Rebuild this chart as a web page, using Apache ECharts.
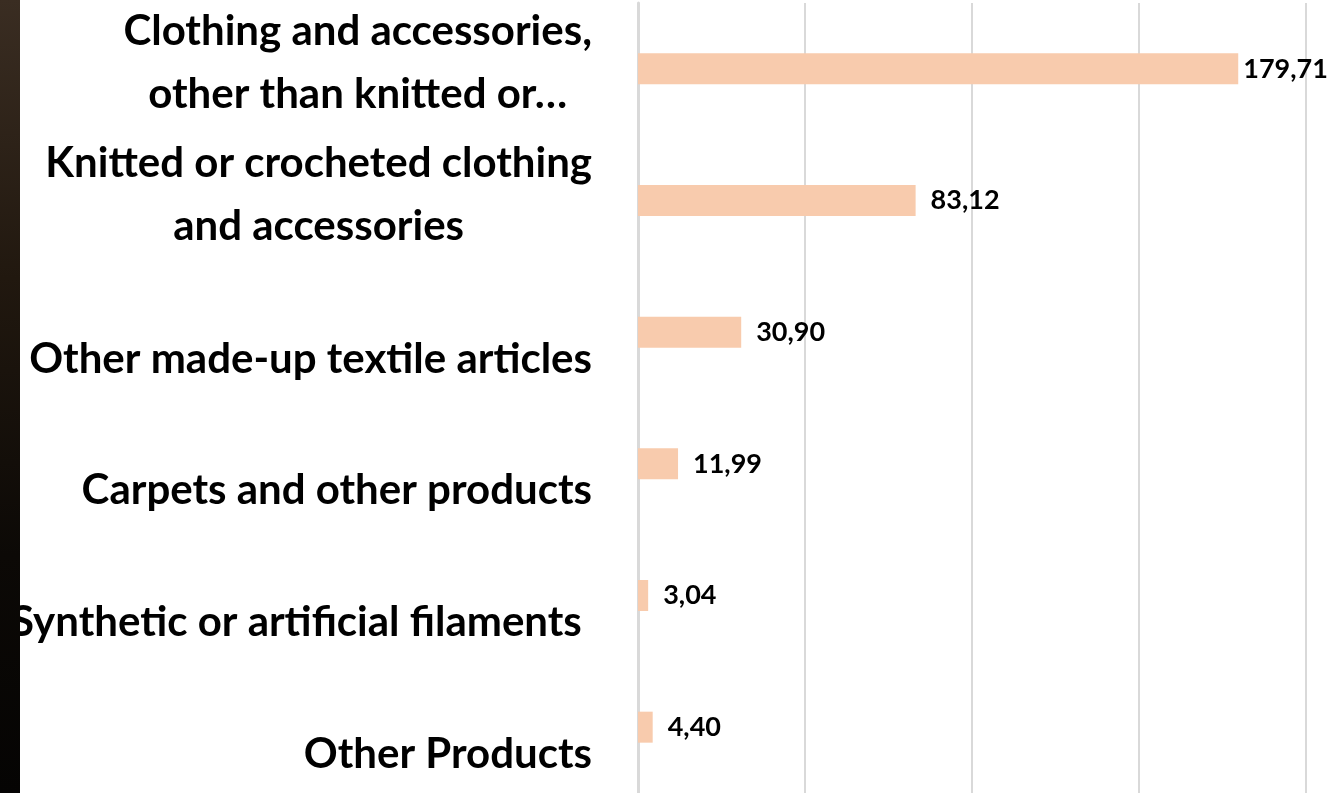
<!DOCTYPE html>
<html>
<head>
<meta charset="utf-8">
<style>
html,body{margin:0;padding:0;background:#fff;}
#chart{width:1342px;height:793px;}
</style>
<script src="https://cdn.jsdelivr.net/npm/echarts@6/dist/echarts.min.js"></script>
</head>
<body>
<div id="chart"></div>
<script>
// Category lines (each category may span several lines)
const categories = [
  ['Clothing and accessories,', 'other than knitted or…'],
  ['Knitted or crocheted clothing', 'and accessories'],
  ['Other made-up textile articles'],
  ['Carpets and other products'],
  ['Synthetic or artificial filaments '],
  ['Other Products']
];
const values = [179.71, 83.12, 30.90, 11.99, 3.04, 4.40];
const xTicks = [0, 50, 100, 150, 200];

const chart = echarts.init(document.getElementById('chart'));
const FONT = 'Lato';

const catNames = categories.map(c => c.join('\n'));

function labelFormatter(value) {
  const lines = value.split('\n');
  if (lines.length === 1) {
    return '{e| }\n{l|' + lines[0] + '}';
  }
  return lines.map(s => '{l|' + s + '}').join('\n') + '\n{f| }';
}

chart.setOption({
  animation: false,
  backgroundColor: '#ffffff',
  graphic: [{
    type: 'rect',
    left: 0, top: 0,
    shape: {width: 20, height: 793},
    style: {
      fill: new echarts.graphic.LinearGradient(0, 0, 0, 1, [
        {offset: 0, color: '#3a2d22'},
        {offset: 0.35, color: '#21180f'},
        {offset: 0.7, color: '#0c0906'},
        {offset: 1, color: '#050403'}
      ])
    },
    z: 10
  }],
  grid: {left: 638, right: 36, top: 3, height: 795, containLabel: false},
  xAxis: {
    type: 'value',
    min: xTicks[0],
    max: xTicks[xTicks.length - 1],
    interval: xTicks[1] - xTicks[0],
    axisLabel: {show: false},
    axisLine: {show: false},
    axisTick: {show: false},
    splitLine: {show: true, lineStyle: {color: '#d9d9d9', width: 2}}
  },
  yAxis: {
    type: 'category',
    inverse: true,
    data: catNames,
    axisLine: {show: true, lineStyle: {color: '#d9d9d9', width: 3}},
    axisTick: {show: false},
    axisLabel: {
      margin: 46,
      align: 'right',
      formatter: labelFormatter,
      rich: {
        l: {fontFamily: FONT, fontSize: 42, fontWeight: 'bold', color: '#000', lineHeight: 63, align: 'center'},
        e: {fontFamily: FONT, fontSize: 10, lineHeight: 54, align: 'center'},
        f: {fontFamily: FONT, fontSize: 10, lineHeight: 12, align: 'center'}
      }
    }
  },
  series: [{
    type: 'bar',
    barWidth: 31,
    itemStyle: {color: '#f8cbad'},
    label: {
      show: true,
      position: 'right',
      distance: 15,
      fontFamily: FONT,
      fontSize: 27,
      fontWeight: 'bold',
      color: '#000',
      formatter: p => p.value.toFixed(2).replace('.', ',')
    },
    data: values.map((v, i) => i === 0 ? {value: v, label: {distance: 5}} : v)
  }]
});
</script>
</body>
</html>
